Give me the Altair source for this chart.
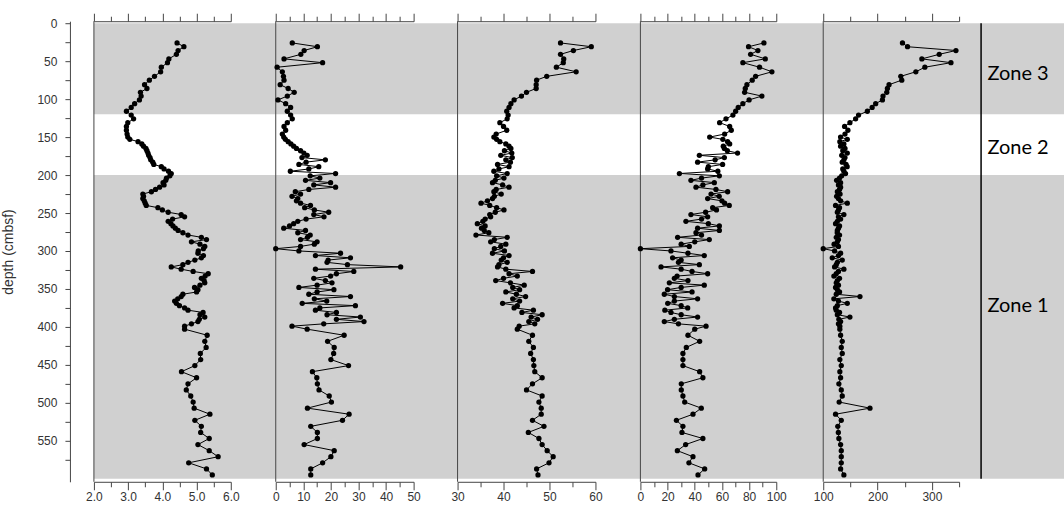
import altair as alt
import pandas as pd

# ---------------- data ----------------
depth_top = [26, 31, 36, 41, 47, 52, 58, 64, 70, 75, 81, 86, 91, 96, 101, 106,
             111, 116, 121, 126, 131, 136, 141, 146]
depth_dense = [150, 153, 156, 159, 162, 165, 168, 171, 174, 177,
               180, 183, 186, 189, 192, 195, 198, 201, 204, 207,
               210, 213, 216, 219, 222, 225, 228, 231, 234, 237,
               240, 243, 246, 249, 252, 255, 258, 261, 264, 267,
               270, 273, 276, 279, 282, 285, 288, 291, 294, 297,
               300, 303, 306, 309, 312, 315, 318, 321, 324, 327,
               330, 333, 336, 339, 342, 345, 348, 351, 354, 357,
               360, 363, 366, 369, 372, 375, 378, 381, 384, 387,
               390, 393, 396, 399]
depth_sparse = [403, 411, 419, 427, 435, 443, 451, 459, 467, 475, 483, 491, 499,
                507, 515, 523, 531, 539, 547, 555, 563, 571, 579, 587, 595]
depth = depth_top + depth_dense + depth_sparse

s1_top = [4.43, 4.63, 4.46, 4.41, 4.19, 4.15, 3.97, 3.95, 3.77, 3.62, 3.48, 3.55,
          3.36, 3.38, 3.33, 3.19, 3.09, 2.95, 3.09, 3.16, 2.99, 2.95, 2.95, 2.97]
s1_dense = [2.99, 3.05, 3.29, 3.40, 3.45, 3.52, 3.55, 3.58, 3.60, 3.64,
            3.66, 3.72, 3.75, 3.97, 4.05, 4.18, 4.26, 4.22, 4.12, 4.10,
            4.02, 4.05, 3.92, 3.80, 3.68, 3.43, 3.45, 3.43, 3.47, 3.50,
            3.53, 3.87, 4.00, 4.17, 4.55, 4.65, 4.30, 4.17, 4.25, 4.31,
            4.38, 4.46, 4.60, 4.75, 5.14, 5.29, 4.85, 5.10, 5.24, 5.20,
            5.05, 5.04, 5.20, 5.14, 4.95, 4.75, 4.60, 4.26, 4.55, 4.90,
            5.34, 5.25, 5.14, 5.22, 5.24, 5.10, 4.94, 5.04, 5.00, 4.60,
            4.55, 4.45, 4.36, 4.41, 4.50, 4.65, 4.75, 5.19, 5.10, 5.24,
            5.08, 5.04, 4.85, 4.65]
s1_sparse = [4.65, 5.31, 5.24, 5.28, 5.11, 5.12, 4.95, 4.56, 5.00, 4.75, 4.70, 4.83,
             4.90, 4.93, 5.39, 4.95, 5.14, 5.12, 5.37, 5.04, 5.37, 5.63, 4.77, 5.29, 5.46]

s2_top = [6.0, 15.1, 10.3, 9.1, 3.0, 17.0, 0.5, 2.4, 2.8, 3.0, 1.6, 4.5,
          6.7, 4.2, 0.8, 3.6, 5.4, 4.2, 5.4, 6.0, 4.2, 3.0, 3.6, 2.4]
s2_dense = [2.9, 3.5, 4.5, 5.5, 6.5, 7.5, 9.0, 10.2, 11.4, 9.5,
            18.0, 11.0, 8.4, 15.6, 12.0, 5.3, 21.7, 12.5, 16.0, 10.8,
            19.9, 13.8, 21.7, 12.0, 7.1, 9.0, 5.9, 8.0, 7.5, 9.0,
            12.6, 10.5, 14.0, 19.2, 13.8, 17.5, 11.0, 8.0, 6.5, 5.0,
            2.9, 10.8, 8.0, 12.5, 11.5, 9.0, 15.0, 14.0, 9.0, 0.0,
            8.4, 23.5, 14.4, 27.1, 19.0, 18.6, 26.0, 45.3, 14.4, 28.3,
            22.0, 19.9, 13.8, 18.0, 20.4, 15.0, 8.4, 21.1, 15.0, 12.0,
            27.1, 14.0, 18.5, 9.6, 28.9, 16.0, 14.4, 22.0, 18.6, 30.7,
            22.0, 32.0, 17.4, 5.9]
s2_sparse = [11.4, 24.8, 18.8, 21.2, 21.0, 20.0, 26.4, 13.3, 14.9, 15.1, 15.7, 19.4,
             20.2, 11.5, 26.6, 24.2, 12.7, 15.1, 15.1, 10.3, 21.2, 20.0, 17.0, 12.7, 12.7]

s3_top = [52.4, 59.1, 55.2, 52.4, 53.1, 53.0, 51.5, 55.8, 49.4, 47.2, 47.1, 47.1,
          45.0, 43.9, 42.3, 41.6, 41.2, 40.7, 41.0, 40.8, 39.2, 40.0, 40.7, 38.4]
s3_dense = [37.9, 38.5, 39.2, 40.5, 41.2, 41.6, 40.2, 41.8, 39.4, 41.9,
            40.5, 41.5, 38.7, 41.2, 39.0, 37.9, 40.8, 38.5, 40.1, 38.2,
            37.6, 39.8, 41.2, 38.4, 37.9, 39.5, 38.0, 37.6, 36.5, 35.1,
            37.0, 38.5, 40.1, 38.2, 37.0, 37.2, 36.0, 35.5, 34.3, 36.0,
            35.2, 35.8, 36.8, 34.0, 40.8, 38.0, 37.2, 40.5, 39.4, 38.0,
            40.2, 37.6, 41.2, 40.0, 39.5, 40.8, 39.0, 38.7, 40.5, 46.3,
            41.2, 43.0, 40.0, 38.3, 41.5, 44.5, 42.0, 43.5, 40.5, 42.8,
            44.8, 42.0, 43.5, 39.8, 43.0, 42.3, 46.5, 44.0, 48.4, 46.0,
            47.4, 45.5, 46.8, 43.4]
s3_sparse = [43.0, 46.3, 45.5, 46.5, 45.9, 46.5, 46.6, 46.8, 48.4, 46.3, 45.0, 48.4,
             47.7, 48.2, 48.2, 46.3, 48.8, 45.4, 47.7, 48.4, 49.5, 50.8, 49.9, 47.2, 47.5]

s4_top = [90.9, 79.6, 86.5, 81.1, 91.9, 75.4, 87.7, 96.8, 84.8, 82.3, 78.4, 77.2,
          76.7, 89.4, 80.0, 75.4, 72.0, 70.1, 68.1, 63.0, 58.3, 65.7, 66.9, 62.0]
s4_dense = [51.0, 60.7, 64.2, 65.7, 61.0, 61.8, 64.0, 71.5, 43.4, 61.8,
            55.0, 42.1, 60.5, 50.0, 49.5, 57.0, 28.7, 58.1, 45.0, 37.2,
            54.4, 46.0, 40.9, 55.6, 64.2, 52.0, 58.0, 49.5, 60.0, 62.0,
            65.4, 53.2, 56.0, 48.0, 37.2, 49.5, 45.0, 33.5, 50.0, 58.1,
            42.1, 58.1, 40.9, 45.0, 27.4, 50.7, 40.0, 30.0, 36.0, 0.0,
            22.5, 35.0, 47.0, 23.7, 30.0, 28.0, 43.4, 15.2, 30.0, 38.0,
            49.5, 27.0, 25.0, 35.0, 21.3, 47.0, 30.0, 20.0, 38.0, 17.6,
            25.0, 42.1, 25.0, 20.1, 30.0, 34.8, 18.0, 22.5, 30.0, 42.1,
            25.0, 17.6, 28.0, 48.3]
s4_sparse = [40.0, 35.0, 43.6, 33.8, 31.3, 31.3, 31.3, 43.6, 46.0, 30.1, 30.1, 31.3,
             32.6, 44.8, 38.7, 26.5, 31.3, 30.6, 46.0, 33.3, 27.2, 38.7, 35.7, 47.3, 42.4]

s5_top = [245.8, 255.1, 344.2, 313.4, 281.5, 335.0, 287.0, 270.4, 242.7, 244.5,
          221.1, 218.1, 216.9, 210.0, 208.9, 196.5, 190.0, 181.2, 165.0, 159.6,
          149.1, 139.3, 145.4, 140.0]
s5_dense = [131.9, 144.3, 130.6, 138.0, 132.0, 140.0, 136.0, 144.3, 134.0, 140.0,
            138.0, 135.0, 142.0, 144.0, 136.0, 138.0, 141.0, 134.0, 130.0, 124.6,
            132.0, 128.0, 132.0, 130.0, 126.0, 131.0, 124.6, 128.0, 132.0, 144.3,
            122.7, 130.0, 128.0, 126.0, 138.0, 128.0, 132.0, 126.0, 122.7, 130.0,
            128.0, 126.0, 125.8, 130.0, 124.0, 128.0, 126.0, 120.0, 128.0, 100.0,
            120.9, 132.0, 128.0, 116.6, 135.0, 126.0, 124.0, 120.9, 138.0, 128.0,
            124.0, 119.6, 130.0, 126.0, 124.0, 128.0, 122.7, 126.0, 130.0, 124.0,
            167.6, 119.6, 128.0, 144.3, 126.0, 122.7, 124.0, 130.0, 126.0, 149.1,
            128.8, 132.0, 128.0, 130.6]
s5_sparse = [130.6, 132.0, 135.0, 133.2, 135.0, 130.6, 133.2, 130.6, 132.0, 128.8,
             133.2, 135.0, 129.3, 186.0, 122.7, 133.2, 126.8, 127.8, 128.8, 132.0,
             133.2, 133.2, 133.2, 132.0, 138.0]

zone_top = [0, 200]
zone_bottom = [120, 600]
zone_names = ["Zone 3", "Zone 2", "Zone 1"]
zone_label_depth = [67, 165, 372]

y_ticks = [0, 25, 50, 75, 100, 125, 150, 175, 200, 225, 250, 275, 300, 325,
           350, 375, 400, 425, 450, 475, 500, 525, 550, 575]

x1_ticks = [2.0, 2.5, 3.0, 3.5, 4.0, 4.5, 5.0, 5.5, 6.0]
x2_ticks = [0, 5, 10, 15, 20, 25, 30, 35, 40, 45, 50]
x3_ticks = [30, 35, 40, 45, 50, 55, 60]
x4_ticks = [0, 10, 20, 30, 40, 50, 60, 70, 80, 90, 100]
x5_ticks = [100, 150, 200, 250, 300, 350]

# ---------------- styles ----------------
GRAY = "#d0d0d0"
AX = "#444444"
LBL = "#333333"
FONT = "Liberation Sans"
H = 461
yscale = alt.Scale(domain=[-2.6, 604], reverse=True, nice=False, zero=False)

shade_df = pd.DataFrame({"top": zone_top, "bottom": zone_bottom})
edge_df = pd.DataFrame({"k": [0]})

y_axis_main = alt.Axis(
    values=y_ticks, labelExpr="datum.value % 50 === 0 ? datum.label : ''",
    offset=24, tickSize=5, labelPadding=8, labelFlush=False, labelOverlap=False,
    domainColor=AX, tickColor=AX, labelColor=LBL, labelFont=FONT, labelFontSize=12,
    title="depth (cmbsf)", titleFont=FONT, titleFontSize=14, titleFontWeight="normal",
    titleColor=LBL, titlePadding=21, grid=False)


def panel(vals, domain, rng, ticks, major_test, fmt, width, show_y):
    assert len(vals) == len(depth)
    df = pd.DataFrame({"depth": depth, "v": vals})
    yaxis = y_axis_main if show_y else None
    xscale = alt.Scale(domain=domain, range=rng, nice=False, zero=False)
    tsize = {"condition": {"test": major_test, "value": 8}, "value": 5}
    bottom_axis = alt.Axis(
        orient="bottom", values=ticks, format=fmt,
        labelExpr=f"({major_test}) ? datum.label : ''",
        tickSize=tsize, labelPadding=2, labelFlush=False, labelOverlap=False,
        domainColor=AX, tickColor=AX, labelColor=LBL, labelFont=FONT,
        labelFontSize=12, title=None, grid=False)
    top_axis = alt.Axis(
        orient="top", values=ticks, labels=False, tickSize=tsize,
        domainColor=AX, tickColor=AX, title=None, grid=False)

    shade = alt.Chart(shade_df).mark_rect(color=GRAY).encode(
        x=alt.value(0), x2=alt.value("width"),
        y=alt.Y("top:Q", scale=yscale, axis=yaxis), y2="bottom:Q")
    edge = alt.Chart(edge_df).mark_rule(color=AX, strokeWidth=1).encode(
        x=alt.value(0), y=alt.value(0), y2=alt.value(H))
    line = alt.Chart(df).mark_line(color="black", strokeWidth=1).encode(
        x=alt.X("v:Q", scale=xscale, axis=bottom_axis),
        y=alt.Y("depth:Q", scale=yscale, axis=yaxis),
        order=alt.Order("depth:Q"))
    pts = alt.Chart(df).mark_circle(color="black", size=28, opacity=1).encode(
        x=alt.X("v:Q", scale=xscale, axis=top_axis),
        y=alt.Y("depth:Q", scale=yscale, axis=yaxis))
    return alt.layer(shade, edge, line, pts).resolve_axis(x="independent").properties(
        width=width, height=H)


s1 = s1_top + s1_dense + s1_sparse
s2 = s2_top + s2_dense + s2_sparse
s3 = s3_top + s3_dense + s3_sparse
s4 = s4_top + s4_dense + s4_sparse
s5 = s5_top + s5_dense + s5_sparse

p1 = panel(s1, [2, 6], [0, 137], x1_ticks, "datum.value % 1 === 0", ".1f", 182, True)
p2 = panel(s2, [0, 50], [0, 138], x2_ticks, "datum.value % 10 === 0", "d", 182, False)
p3 = panel(s3, [30, 60], [0, 138], x3_ticks, "datum.value % 10 === 0", "d", 183, False)
p4 = panel(s4, [0, 100], [0, 136], x4_ticks, "datum.value % 20 === 0", "d", 183, False)
p5 = panel(s5, [100, 350], [0, 136], x5_ticks, "datum.value % 100 === 0", "d", 158, False)

zlabel_df = pd.DataFrame({"name": zone_names, "d": zone_label_depth})
zline_df = pd.DataFrame({"top": [zone_top[0]], "bottom": [zone_bottom[-1]]})
z_shade = alt.Chart(shade_df).mark_rect(color=GRAY).encode(
    x=alt.value(0), x2=alt.value("width"),
    y=alt.Y("top:Q", scale=yscale, axis=None), y2="bottom:Q")
z_line = alt.Chart(zline_df).mark_rule(color="black", strokeWidth=1.5).encode(
    x=alt.value(0), y=alt.Y("top:Q", scale=yscale, axis=None), y2="bottom:Q")
z_text = alt.Chart(zlabel_df).mark_text(
    font="Lato", fontSize=20, color="black", align="center", baseline="middle").encode(
    x=alt.value(37), y=alt.Y("d:Q", scale=yscale, axis=None), text="name:N")
pz = alt.layer(z_shade, z_line, z_text).properties(width=83, height=H)

chart = alt.hconcat(p1, p2, p3, p4, p5, pz, spacing=0, bounds="flush").properties(
    padding={"left": 1, "top": 12, "right": 0, "bottom": 0}
).configure_view(stroke=None)

chart.save("out.html", embed_options={"renderer": "svg", "actions": False})
